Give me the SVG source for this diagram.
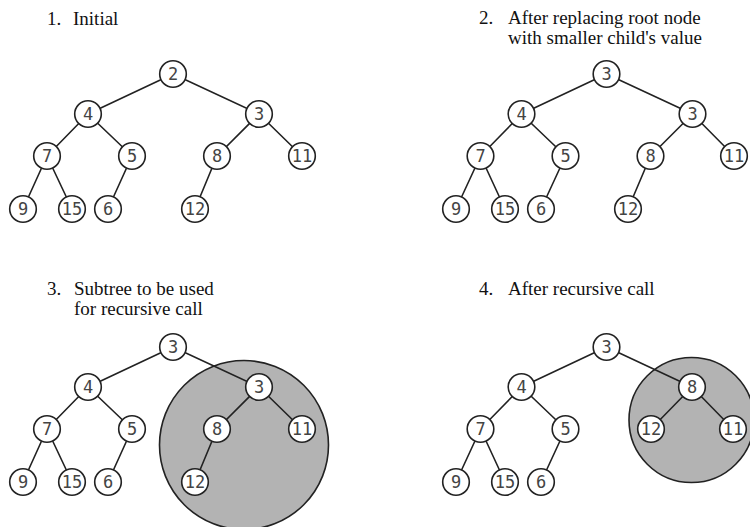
<svg xmlns="http://www.w3.org/2000/svg" width="750" height="527" viewBox="0 0 750 527">
<style>
.title{font-family:"Liberation Serif","Times New Roman",serif;font-size:19px;fill:#111}
.edge{stroke:#222;stroke-width:1.6;fill:none}
.node circle{fill:#fff;stroke:#222;stroke-width:1.6}
.node text{font-family:"DejaVu Sans Mono",monospace;font-size:17px;fill:#444;text-anchor:middle}
.shade{fill:#b3b3b3;stroke:#222;stroke-width:1.6}
</style>
<rect width="750" height="527" fill="#fff"/>
<!-- titles -->
<text class="title" y="25"><tspan x="47">1.</tspan><tspan x="73">Initial</tspan></text>
<text class="title" y="24"><tspan x="479">2.</tspan><tspan x="508">After replacing root node</tspan></text>
<text class="title" y="44"><tspan x="508">with smaller child's value</tspan></text>
<text class="title" y="295"><tspan x="47">3.</tspan><tspan x="74">Subtree to be used</tspan></text>
<text class="title" y="315"><tspan x="74">for recursive call</tspan></text>
<text class="title" y="295"><tspan x="479">4.</tspan><tspan x="508">After recursive call</tspan></text>
<!-- shaded subtrees -->
<circle class="shade" cx="244" cy="445" r="84.5"/>
<circle class="shade" cx="691.5" cy="420" r="62.5"/>
<!-- connectors -->
<g id="connectors">
<path class="edge" d="M173 74L88 114M173 74L259 114M88 114L47 156M88 114L132 156M259 114L217 156M259 114L302 156M47 156L23 209M47 156L72 209M132 156L108 209M217 156L195 209"/>
<path class="edge" d="M606.5 74L521.5 114M606.5 74L692.5 114M521.5 114L480.5 156M521.5 114L565.5 156M692.5 114L650.5 156M692.5 114L734 156M480.5 156L456 209M480.5 156L505 209M565.5 156L541 209M650.5 156L628 209"/>
<path class="edge" d="M173 347L88 387M173 347L259 387M88 387L47 429M88 387L132 429M259 387L217 429M259 387L302 429M47 429L23 482M47 429L72 482M132 429L108 482M217 429L195 482"/>
<path class="edge" d="M606.5 347L521.5 387M606.5 347L692 387M521.5 387L480.5 429M521.5 387L565.5 429M692 387L651 429M692 387L733 429M480.5 429L456 482M480.5 429L505 482M565.5 429L541 482"/>
</g>
<!-- panel 1 -->
<g id="p1-n2" class="node"><circle cx="173" cy="74" r="13.3"/><text x="173" y="80">2</text></g>
<g id="p1-n4" class="node"><circle cx="88" cy="114" r="13.3"/><text x="88" y="120">4</text></g>
<g id="p1-n3" class="node"><circle cx="259" cy="114" r="13.3"/><text x="259" y="120">3</text></g>
<g id="p1-n7" class="node"><circle cx="47" cy="156" r="13.3"/><text x="47" y="162">7</text></g>
<g id="p1-n5" class="node"><circle cx="132" cy="156" r="13.3"/><text x="132" y="162">5</text></g>
<g id="p1-n8" class="node"><circle cx="217" cy="156" r="13.3"/><text x="217" y="162">8</text></g>
<g id="p1-n11" class="node"><circle cx="302" cy="156" r="13.3"/><text x="302" y="162">11</text></g>
<g id="p1-n9" class="node"><circle cx="23" cy="209" r="13.3"/><text x="23" y="215">9</text></g>
<g id="p1-n15" class="node"><circle cx="72" cy="209" r="13.3"/><text x="72" y="215">15</text></g>
<g id="p1-n6" class="node"><circle cx="108" cy="209" r="13.3"/><text x="108" y="215">6</text></g>
<g id="p1-n12" class="node"><circle cx="195" cy="209" r="13.3"/><text x="195" y="215">12</text></g>
<!-- panel 2 -->
<g id="p2-n3r" class="node"><circle cx="606.5" cy="74" r="13.3"/><text x="606.5" y="80">3</text></g>
<g id="p2-n4" class="node"><circle cx="521.5" cy="114" r="13.3"/><text x="521.5" y="120">4</text></g>
<g id="p2-n3" class="node"><circle cx="692.5" cy="114" r="13.3"/><text x="692.5" y="120">3</text></g>
<g id="p2-n7" class="node"><circle cx="480.5" cy="156" r="13.3"/><text x="480.5" y="162">7</text></g>
<g id="p2-n5" class="node"><circle cx="565.5" cy="156" r="13.3"/><text x="565.5" y="162">5</text></g>
<g id="p2-n8" class="node"><circle cx="650.5" cy="156" r="13.3"/><text x="650.5" y="162">8</text></g>
<g id="p2-n11" class="node"><circle cx="734" cy="156" r="13.3"/><text x="734" y="162">11</text></g>
<g id="p2-n9" class="node"><circle cx="456" cy="209" r="13.3"/><text x="456" y="215">9</text></g>
<g id="p2-n15" class="node"><circle cx="505" cy="209" r="13.3"/><text x="505" y="215">15</text></g>
<g id="p2-n6" class="node"><circle cx="541" cy="209" r="13.3"/><text x="541" y="215">6</text></g>
<g id="p2-n12" class="node"><circle cx="628" cy="209" r="13.3"/><text x="628" y="215">12</text></g>
<!-- panel 3 -->
<g id="p3-n3r" class="node"><circle cx="173" cy="347" r="13.3"/><text x="173" y="353">3</text></g>
<g id="p3-n4" class="node"><circle cx="88" cy="387" r="13.3"/><text x="88" y="393">4</text></g>
<g id="p3-n3" class="node"><circle cx="259" cy="387" r="13.3"/><text x="259" y="393">3</text></g>
<g id="p3-n7" class="node"><circle cx="47" cy="429" r="13.3"/><text x="47" y="435">7</text></g>
<g id="p3-n5" class="node"><circle cx="132" cy="429" r="13.3"/><text x="132" y="435">5</text></g>
<g id="p3-n8" class="node"><circle cx="217" cy="429" r="13.3"/><text x="217" y="435">8</text></g>
<g id="p3-n11" class="node"><circle cx="302" cy="429" r="13.3"/><text x="302" y="435">11</text></g>
<g id="p3-n9" class="node"><circle cx="23" cy="482" r="13.3"/><text x="23" y="488">9</text></g>
<g id="p3-n15" class="node"><circle cx="72" cy="482" r="13.3"/><text x="72" y="488">15</text></g>
<g id="p3-n6" class="node"><circle cx="108" cy="482" r="13.3"/><text x="108" y="488">6</text></g>
<g id="p3-n12" class="node"><circle cx="195" cy="482" r="13.3"/><text x="195" y="488">12</text></g>
<!-- panel 4 -->
<g id="p4-n3r" class="node"><circle cx="606.5" cy="347" r="13.3"/><text x="606.5" y="353">3</text></g>
<g id="p4-n4" class="node"><circle cx="521.5" cy="387" r="13.3"/><text x="521.5" y="393">4</text></g>
<g id="p4-n8" class="node"><circle cx="692" cy="387" r="13.3"/><text x="692" y="393">8</text></g>
<g id="p4-n7" class="node"><circle cx="480.5" cy="429" r="13.3"/><text x="480.5" y="435">7</text></g>
<g id="p4-n5" class="node"><circle cx="565.5" cy="429" r="13.3"/><text x="565.5" y="435">5</text></g>
<g id="p4-n12" class="node"><circle cx="651" cy="429" r="13.3"/><text x="651" y="435">12</text></g>
<g id="p4-n11" class="node"><circle cx="733" cy="429" r="13.3"/><text x="733" y="435">11</text></g>
<g id="p4-n9" class="node"><circle cx="456" cy="482" r="13.3"/><text x="456" y="488">9</text></g>
<g id="p4-n15" class="node"><circle cx="505" cy="482" r="13.3"/><text x="505" y="488">15</text></g>
<g id="p4-n6" class="node"><circle cx="541" cy="482" r="13.3"/><text x="541" y="488">6</text></g>
</svg>
